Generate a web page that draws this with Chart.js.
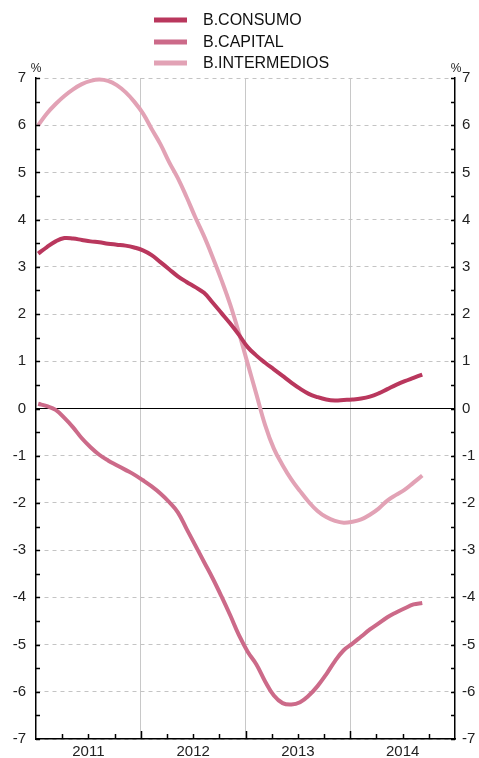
<!DOCTYPE html>
<html>
<head>
<meta charset="utf-8">
<script src="https://cdn.jsdelivr.net/npm/chart.js@4/dist/chart.umd.min.js"></script>
<style>
  html, body { margin: 0; padding: 0; background: #fff; }
  #wrap { width: 479px; height: 758px; }
</style>
</head>
<body>
<div id="wrap"><canvas id="chart"></canvas></div>
<script>
// monthly values, Jan 2011 .. Sep 2014 (%)
var years = ['2011', '2012', '2013', '2014'];

var consumo = [
    3.28, 3.42, 3.54, 3.61, 3.60, 3.57, 3.54, 3.52, 3.49, 3.47, 3.45, 3.41,
    3.35, 3.25, 3.10, 2.95, 2.80, 2.68, 2.57, 2.45, 2.24, 2.02, 1.80, 1.56,
    1.30, 1.12, 0.97, 0.83, 0.69, 0.55, 0.42, 0.31, 0.24, 0.19, 0.17, 0.18,
    0.19, 0.21, 0.25, 0.32, 0.41, 0.50, 0.58, 0.65, 0.72
];

var capital = [
    0.10, 0.05, -0.03, -0.20, -0.40, -0.63, -0.82, -0.98, -1.10, -1.20, -1.30, -1.40,
    -1.52, -1.65, -1.80, -1.98, -2.20, -2.55, -2.90, -3.25, -3.60, -3.98, -4.38, -4.80,
    -5.15, -5.42, -5.78, -6.08, -6.24, -6.27, -6.22, -6.08, -5.88, -5.63, -5.35, -5.12,
    -4.98, -4.83, -4.68, -4.55, -4.42, -4.32, -4.23, -4.15, -4.12
];

var intermedios = [
    6.00, 6.25, 6.45, 6.62, 6.76, 6.87, 6.94, 6.97, 6.94, 6.85, 6.70, 6.50,
    6.25, 5.92, 5.60, 5.22, 4.88, 4.48, 4.05, 3.65, 3.20, 2.72, 2.20, 1.60,
    0.95, 0.30, -0.35, -0.85, -1.20, -1.50, -1.75, -1.98, -2.17, -2.30, -2.38, -2.42,
    -2.40, -2.35, -2.25, -2.12, -1.95, -1.83, -1.72, -1.57, -1.42
];

var seriesNames = ['B.CONSUMO', 'B.CAPITAL', 'B.INTERMEDIOS'];
var seriesColors = ['#b9375d', '#cc6a89', '#e2a2b5'];

function toPoints(arr) {
    return arr.map(function (v, i) { return { x: i + 0.25, y: v }; });
}

var FONT = '"Liberation Sans", Arial, Helvetica, sans-serif';

// legend, zero line, inward tick marks and % signs
var decorations = {
    id: 'decorations',
    beforeDatasetsDraw: function (chart) {
        var ctx = chart.ctx;
        var a = chart.chartArea;
        var y = chart.scales.y;
        ctx.save();
        // zero line
        ctx.strokeStyle = '#000';
        ctx.lineWidth = 1.2;
        ctx.beginPath();
        ctx.moveTo(a.left, y.getPixelForValue(0));
        ctx.lineTo(a.right, y.getPixelForValue(0));
        ctx.stroke();
        ctx.restore();
    },
    afterDatasetsDraw: function (chart) {
        var ctx = chart.ctx;
        var a = chart.chartArea;
        var y = chart.scales.y;
        var x = chart.scales.x;
        ctx.save();

        ctx.strokeStyle = '#000';
        // y tick marks, pointing inward
        ctx.lineWidth = 1.5;
        for (var v = -7; v <= 7; v += 0.5) {
            var py = Math.round(y.getPixelForValue(v)) + 0.5;
            ctx.beginPath();
            ctx.moveTo(a.left, py); ctx.lineTo(a.left + 4, py);
            ctx.moveTo(a.right, py); ctx.lineTo(a.right - 4, py);
            ctx.stroke();
        }
        // x tick marks (quarters, years taller)
        for (var m = 3; m < 48; m += 3) {
            var px = Math.round(x.getPixelForValue(m)) + 0.5;
            var len = (m % 12 === 0) ? 8 : 5;
            ctx.beginPath();
            ctx.moveTo(px, a.bottom); ctx.lineTo(px, a.bottom - len);
            ctx.stroke();
        }

        // % signs
        ctx.fillStyle = '#222';
        ctx.font = '12px ' + FONT;
        ctx.textAlign = 'center';
        ctx.textBaseline = 'middle';
        ctx.fillText('%', a.left, a.top - 9);
        ctx.fillText('%', a.right + 1, a.top - 9);

        // legend
        var rows = [20, 42, 63];
        chart.data.datasets.forEach(function (ds, i) {
            ctx.strokeStyle = ds.borderColor;
            ctx.lineWidth = 5;
            ctx.beginPath();
            ctx.moveTo(154, rows[i]);
            ctx.lineTo(187, rows[i]);
            ctx.stroke();
            ctx.fillStyle = '#111';
            ctx.font = '16px ' + FONT;
            ctx.textAlign = 'left';
            ctx.fillText(ds.label, 203, rows[i] + 1);
        });
        ctx.restore();
    }
};

var datasets = [consumo, capital, intermedios].map(function (arr, i) {
    return {
        label: seriesNames[i],
        data: toPoints(arr),
        borderColor: seriesColors[i],
        backgroundColor: seriesColors[i],
        borderWidth: 4,
        pointRadius: 0,
        tension: 0.4,
        clip: false,
        fill: false
    };
});
// draw order: intermedios first, consumo on top
datasets[0].order = 1;
datasets[1].order = 2;
datasets[2].order = 3;

var yTicks = {
    color: '#222',
    font: { family: FONT, size: 15 },
    stepSize: 1
};

new Chart(document.getElementById('chart'), {
    type: 'line',
    data: { datasets: datasets },
    options: {
        responsive: true,
        maintainAspectRatio: false,
        animation: false,
        layout: { padding: { top: 78, left: 0, right: 0, bottom: 0 } },
        plugins: {
            legend: { display: false },
            tooltip: { enabled: false }
        },
        scales: {
            x: {
                type: 'linear',
                min: 0,
                max: 48,
                afterBuildTicks: function (scale) {
                    var t = [];
                    for (var m = 0; m <= 48; m += 6) t.push({ value: m });
                    scale.ticks = t;
                },
                afterFit: function (scale) { scale.height = 17; },
                ticks: {
                    color: '#222',
                    font: { family: FONT, size: 15 },
                    padding: 4,
                    maxRotation: 0,
                    autoSkip: false,
                    callback: function (value) {
                        return (value % 12 === 6) ? years[(value - 6) / 12] : '';
                    }
                },
                grid: {
                    drawTicks: false,
                    lineWidth: 1,
                    color: function (ctx) {
                        var v = ctx.tick ? ctx.tick.value : 0;
                        return (v % 12 === 0 && v !== 0 && v !== 48) ? '#c8c8c8' : 'rgba(0,0,0,0)';
                    }
                },
                border: { display: true, color: '#000', width: 1.5 }
            },
            y: {
                position: 'left',
                min: -7,
                max: 7,
                afterFit: function (scale) { scale.width = 36; },
                ticks: Object.assign({ padding: 10 }, yTicks),
                grid: { drawTicks: false, color: '#c4c4c4', lineWidth: 1 },
                border: { display: true, color: '#000', width: 1.5, dash: [4, 4] }
            },
            y2: {
                position: 'right',
                min: -7,
                max: 7,
                afterFit: function (scale) { scale.width = 24; },
                ticks: Object.assign({ padding: 7 }, yTicks),
                grid: { display: false, drawTicks: false },
                border: { display: true, color: '#000', width: 1.5 }
            }
        }
    },
    plugins: [decorations]
});
</script>
</body>
</html>
